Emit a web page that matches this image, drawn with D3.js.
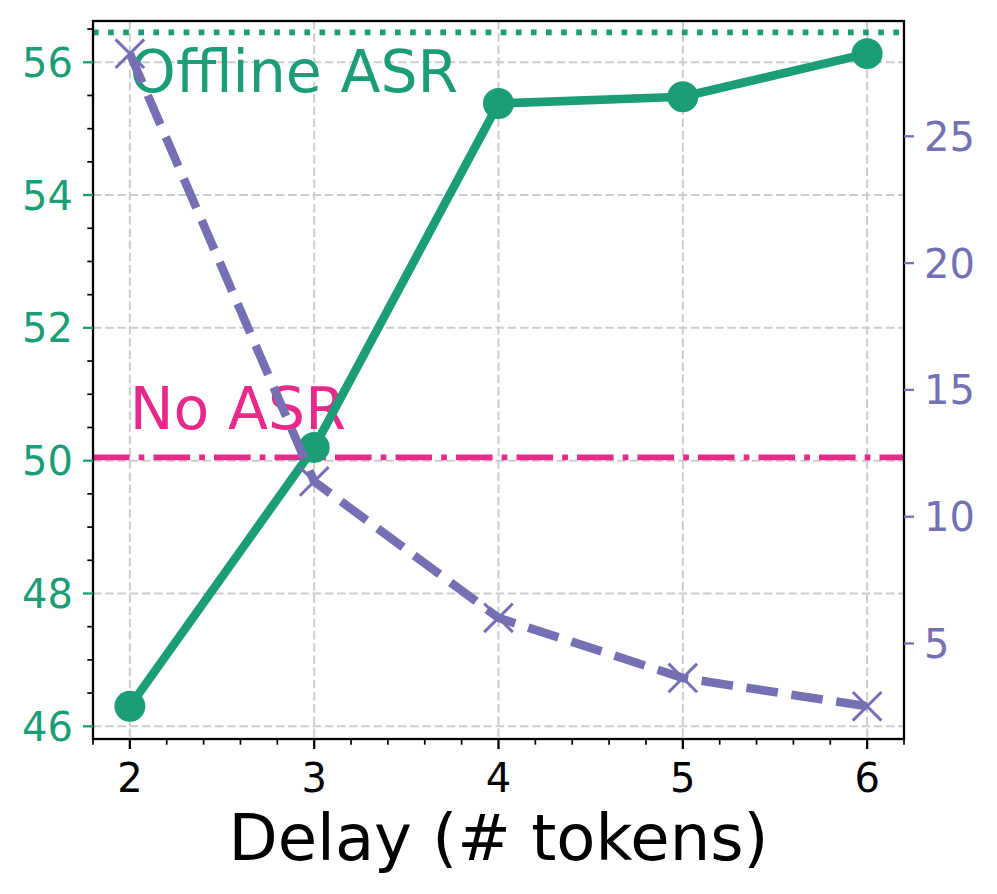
<!DOCTYPE html>
<html>
<head>
<meta charset="utf-8">
<script src="https://cdn.jsdelivr.net/npm/d3@7/dist/d3.min.js"></script>
<style>
  html, body { margin: 0; padding: 0; background: #fff; }
  svg { display: block; font-family: "DejaVu Sans", sans-serif; }
</style>
</head>
<body>
<svg id="chart" width="997" height="894"></svg>
<script>
// ---- data ----
const delays = [2, 3, 4, 5, 6];
const scoreValues = [46.30, 50.20, 55.38, 55.48, 56.13];   // left axis (green)
const latencyValues = [28.26, 11.39, 6.01, 3.64, 2.52];    // right axis (purple)
const offlineASR = 56.45;
const noASR = 50.05;
const xTicks = [2, 3, 4, 5, 6];
const leftTicks = [46, 48, 50, 52, 54, 56];
const rightTicks = [5, 10, 15, 20, 25];
const labels = { offline: "Offline ASR", none: "No ASR", x: "Delay (# tokens)" };

// ---- style ----
const green = "#1b9e77", purple = "#7570b3", pink = "#e7298a";
const m = { left: 93, right: 904, top: 21, bottom: 739 };

const svg = d3.select("#chart");

function pad(ext) { const r = ext[1] - ext[0]; return [ext[0] - 0.05 * r, ext[1] + 0.05 * r]; }

const x = d3.scaleLinear().domain([1.8, 6.2]).range([m.left, m.right]);
const yL = d3.scaleLinear().domain(pad(d3.extent(scoreValues))).range([m.bottom, m.top]);
const yR = d3.scaleLinear().domain(pad(d3.extent(latencyValues))).range([m.bottom, m.top]);

// clip
svg.append("defs").append("clipPath").attr("id", "clip")
  .append("rect").attr("x", m.left).attr("y", m.top)
  .attr("width", m.right - m.left).attr("height", m.bottom - m.top);

// grid
const grid = svg.append("g").attr("stroke", "#cccccc").attr("stroke-width", 2)
  .attr("stroke-dasharray", "8.5,3.7");
xTicks.forEach(t => grid.append("line").attr("x1", x(t)).attr("x2", x(t))
  .attr("y1", m.top).attr("y2", m.bottom));
leftTicks.forEach(t => grid.append("line").attr("x1", m.left).attr("x2", m.right)
  .attr("y1", yL(t)).attr("y2", yL(t)));

// annotation texts (under lines)
svg.append("text").attr("x", x(2)).attr("y", yL(offlineASR - 0.9))
  .attr("font-size", 58.5).attr("fill", green).text(labels.offline);
svg.append("text").attr("x", x(2)).attr("y", yL(noASR + 0.42))
  .attr("font-size", 58.5).attr("fill", pink).text(labels.none);

const plot = svg.append("g").attr("clip-path", "url(#clip)");

// green line
plot.append("path").datum(delays.map((d, i) => [d, scoreValues[i]]))
  .attr("fill", "none").attr("stroke", green).attr("stroke-width", 8.6)
  .attr("stroke-linejoin", "round")
  .attr("d", d3.line().x(d => x(d[0])).y(d => yL(d[1])));
svg.append("g").selectAll("circle").data(delays).join("circle")
  .attr("cx", d => x(d)).attr("cy", (d, i) => yL(scoreValues[i]))
  .attr("r", 15.5).attr("fill", green);

// no ASR line
plot.append("line").attr("x1", m.left).attr("x2", m.right)
  .attr("y1", yL(noASR)).attr("y2", yL(noASR))
  .attr("stroke", pink).attr("stroke-width", 5.7)
  .attr("stroke-dasharray", "36.6,9.1,5.7,9.1");

// offline ASR line
plot.append("line").attr("x1", m.left).attr("x2", m.right)
  .attr("y1", yL(offlineASR)).attr("y2", yL(offlineASR))
  .attr("stroke", green).attr("stroke-width", 5.7)
  .attr("stroke-dasharray", "5.7,9.4");

// purple dashed line
svg.append("path").datum(delays.map((d, i) => [d, latencyValues[i]]))
  .attr("fill", "none").attr("stroke", purple).attr("stroke-width", 8.6)
  .attr("stroke-dasharray", "31.7,13.7")
  .attr("d", d3.line().x(d => x(d[0])).y(d => yR(d[1])));
const xm = svg.append("g").attr("stroke", purple).attr("stroke-width", 3);
delays.forEach((d, i) => {
  const cx = x(d), cy = yR(latencyValues[i]), h = 14.3;
  xm.append("line").attr("x1", cx - h).attr("y1", cy - h).attr("x2", cx + h).attr("y2", cy + h);
  xm.append("line").attr("x1", cx - h).attr("y1", cy + h).attr("x2", cx + h).attr("y2", cy - h);
});

// spines
svg.append("rect").attr("x", m.left).attr("y", m.top)
  .attr("width", m.right - m.left).attr("height", m.bottom - m.top)
  .attr("fill", "none").attr("stroke", "#000").attr("stroke-width", 2.3);

// x axis
const xAxis = svg.append("g");
d3.range(18, 63, 2).map(v => v / 10).filter(v => !xTicks.includes(v)).forEach(v => {
  xAxis.append("line").attr("x1", x(v)).attr("x2", x(v)).attr("y1", m.bottom).attr("y2", m.bottom + 5.7)
    .attr("stroke", "#000").attr("stroke-width", 1.7);
});
xTicks.forEach(t => {
  xAxis.append("line").attr("x1", x(t)).attr("x2", x(t)).attr("y1", m.bottom).attr("y2", m.bottom + 10)
    .attr("stroke", "#000").attr("stroke-width", 2.3);
  xAxis.append("text").attr("x", x(t)).attr("y", 792).attr("text-anchor", "middle")
    .attr("font-size", 40).attr("fill", "#000").text(t);
});
svg.append("text").attr("x", (m.left + m.right) / 2).attr("y", 860).attr("text-anchor", "middle")
  .attr("font-size", 64).attr("fill", "#000").text(labels.x);

// left axis
const lAxis = svg.append("g");
d3.range(46, 57, 0.5).filter(v => !leftTicks.includes(v)).forEach(v => {
  lAxis.append("line").attr("x1", m.left - 5.7).attr("x2", m.left).attr("y1", yL(v)).attr("y2", yL(v))
    .attr("stroke", "#000").attr("stroke-width", 1.7);
});
leftTicks.forEach(t => {
  lAxis.append("line").attr("x1", m.left - 10).attr("x2", m.left).attr("y1", yL(t)).attr("y2", yL(t))
    .attr("stroke", green).attr("stroke-width", 2.3);
  lAxis.append("text").attr("x", m.left - 20).attr("y", yL(t)).attr("dy", "0.365em")
    .attr("text-anchor", "end").attr("font-size", 40).attr("fill", green).text(t);
});

// right axis
const rAxis = svg.append("g");
rightTicks.forEach(t => {
  rAxis.append("line").attr("x1", m.right).attr("x2", m.right + 10).attr("y1", yR(t)).attr("y2", yR(t))
    .attr("stroke", purple).attr("stroke-width", 2.3);
  rAxis.append("text").attr("x", m.right + 20).attr("y", yR(t)).attr("dy", "0.365em")
    .attr("text-anchor", "start").attr("font-size", 40).attr("fill", purple).text(t);
});
</script>
</body>
</html>
